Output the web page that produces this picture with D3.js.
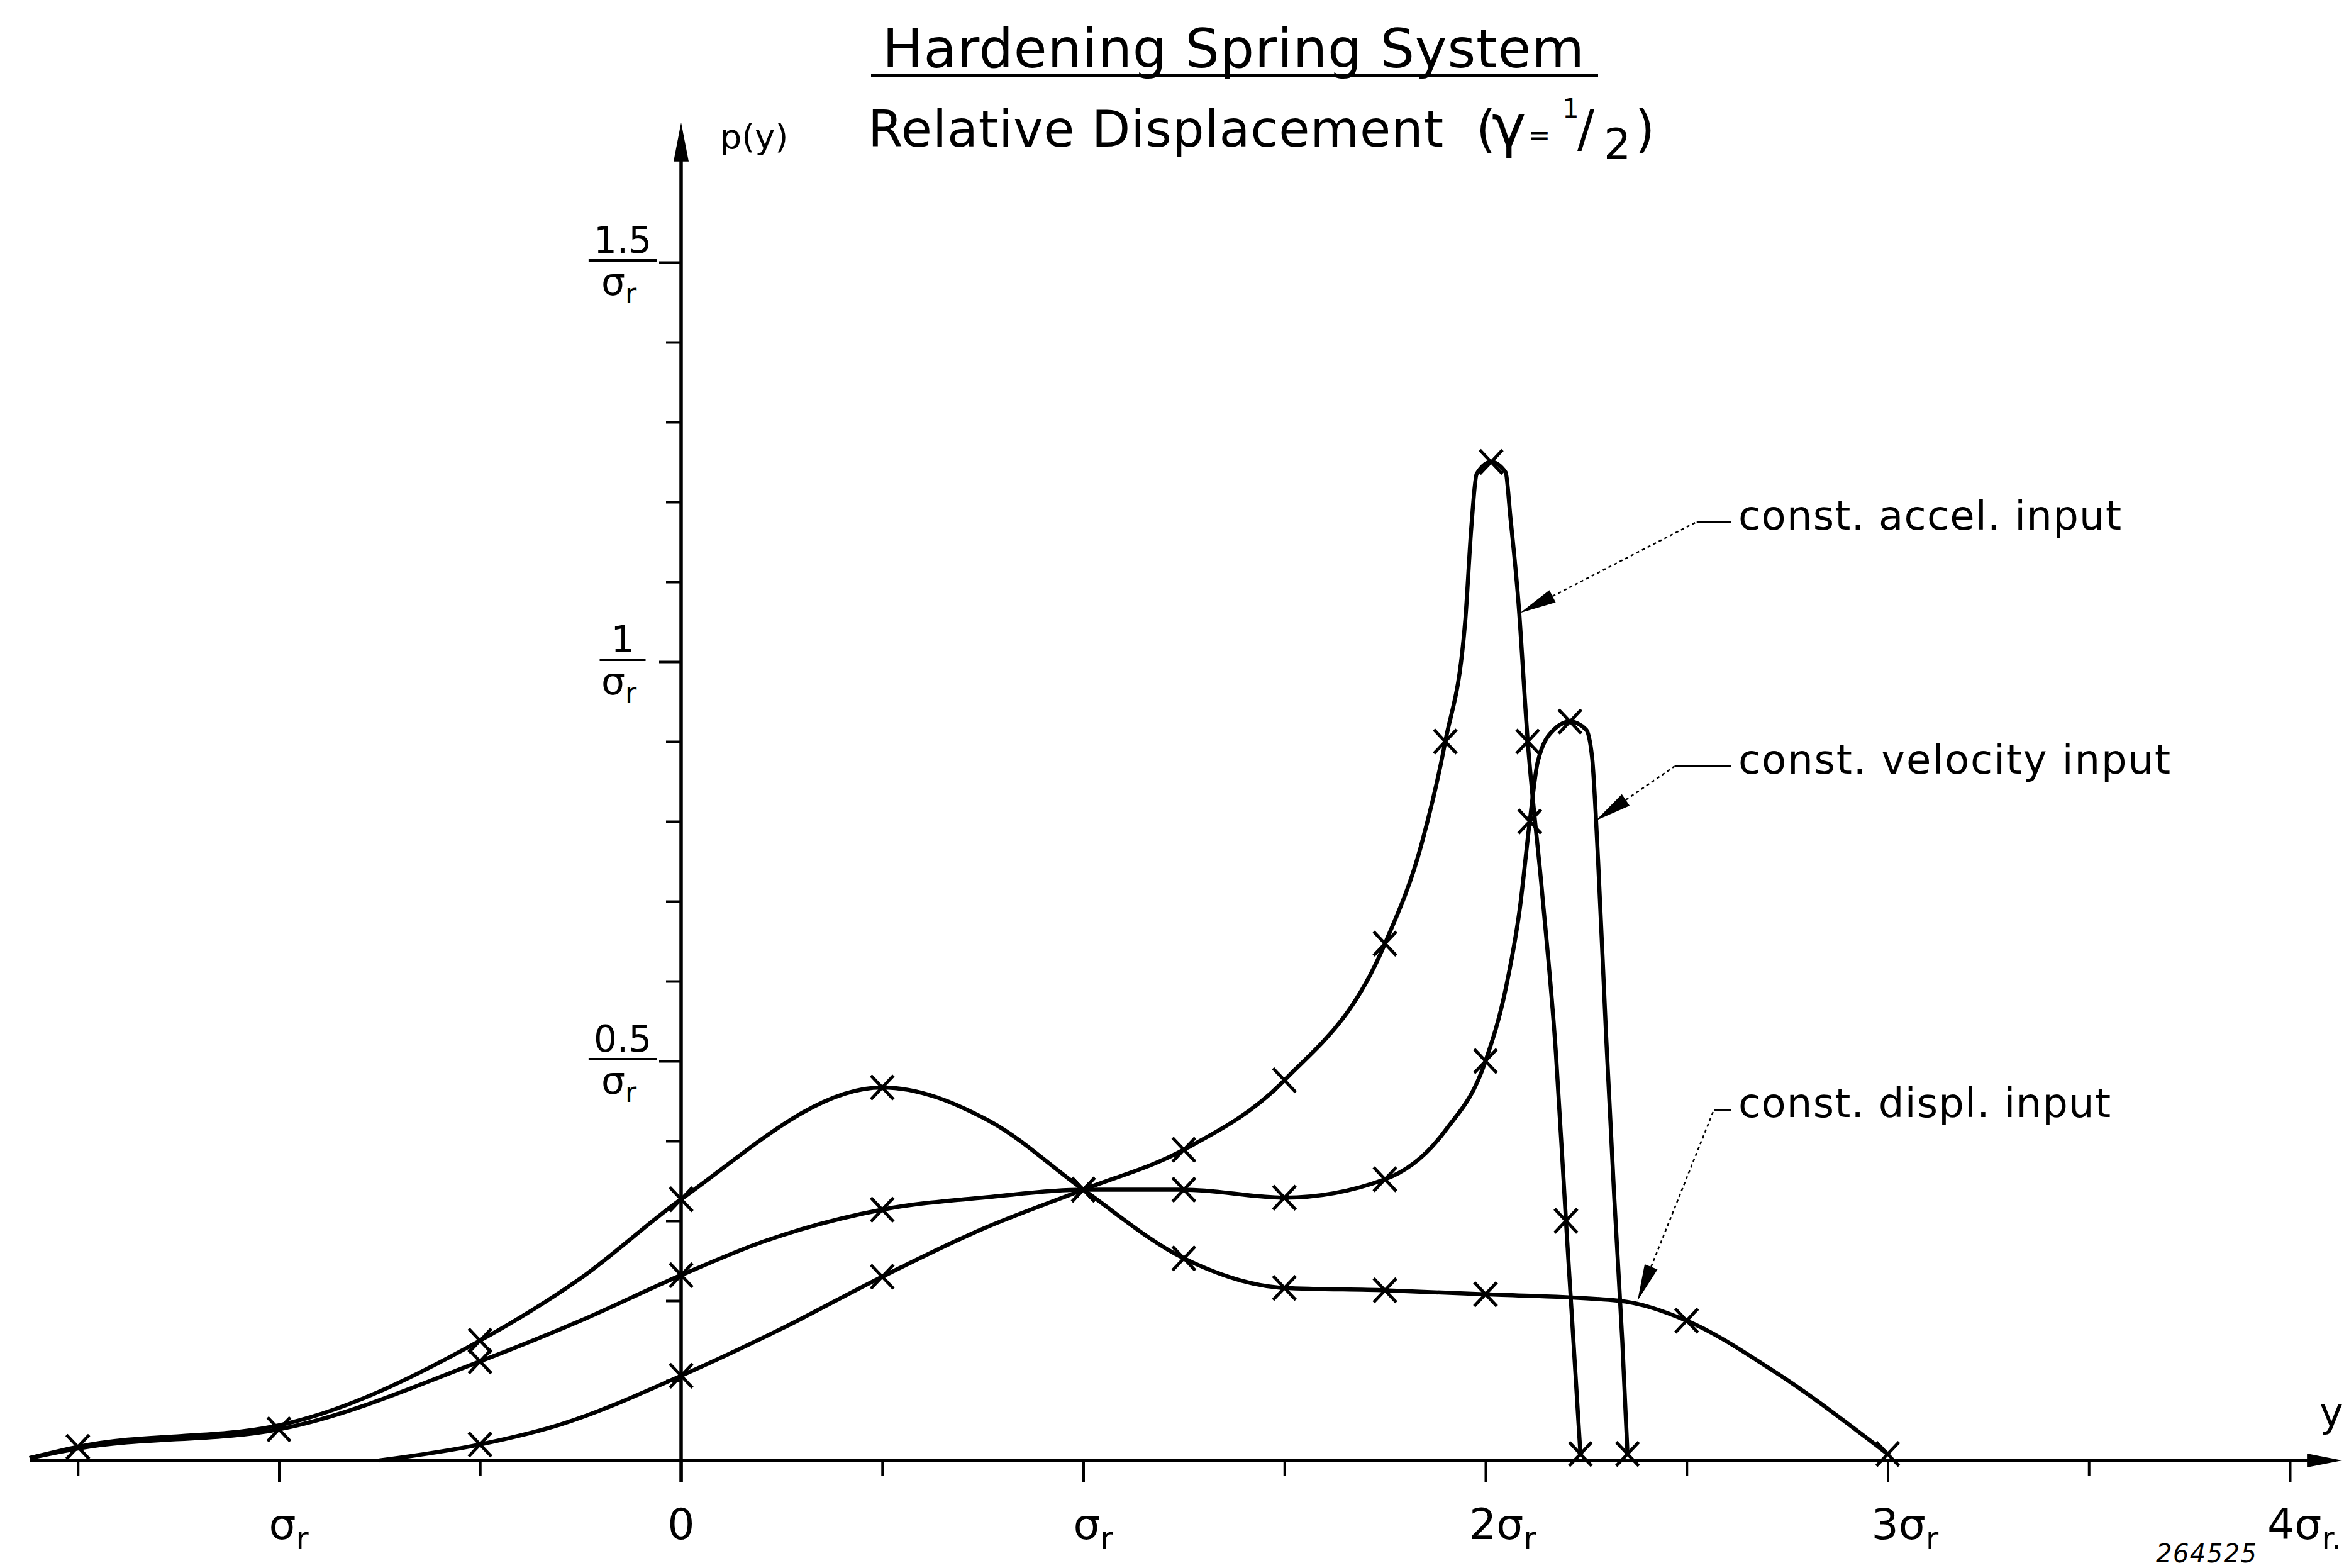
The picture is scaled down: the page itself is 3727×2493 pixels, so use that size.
<!DOCTYPE html>
<html>
<head>
<meta charset="utf-8">
<script src="https://cdn.jsdelivr.net/npm/d3@7"></script>
<style>
html, body { margin: 0; padding: 0; background: #fff; }
svg { display: block; background: #fff; }
text { font-family: "DejaVu Sans", sans-serif; fill: #000; }
</style>
</head>
<body>
<svg id="chart" width="3727" height="2493"></svg>
<script>
// y in units of sigma_r, p(y) in units of 1/sigma_r
const accelX = [-0.75, -0.5, -0.3, 0, 0.25, 0.5, 0.75, 1.0, 1.25, 1.5, 1.75, 1.84, 1.9, 1.95, 1.965, 1.978, 2.014, 2.05, 2.062, 2.081, 2.105, 2.14, 2.175, 2.2, 2.236];
const accelP = [0.0, 0.02, 0.045, 0.106, 0.165, 0.23, 0.29, 0.339, 0.389, 0.476, 0.647, 0.77, 0.9, 1.054, 1.17, 1.235, 1.25, 1.237, 1.18, 1.08, 0.9, 0.715, 0.51, 0.3, 0.008];
const accelMark = [0, 1, 0, 1, 0, 1, 0, 1, 1, 1, 1, 0, 1, 0, 0, 0, 1, 0, 0, 0, 1, 0, 0, 1, 1];

const veloX = [-1.62, -1.5, -1.0, -0.5, -0.25, 0, 0.21, 0.5, 0.77, 1.0, 1.25, 1.5, 1.75, 1.9, 2.0, 2.05, 2.085, 2.11, 2.13, 2.17, 2.21, 2.25, 2.265, 2.28, 2.3, 2.32, 2.34, 2.353];
const veloP = [0.003, 0.015, 0.039, 0.124, 0.175, 0.232, 0.275, 0.314, 0.33, 0.339, 0.339, 0.329, 0.352, 0.413, 0.5, 0.59, 0.69, 0.8, 0.875, 0.915, 0.925, 0.915, 0.88, 0.75, 0.53, 0.33, 0.15, 0.008];
const veloMark = [0, 0, 1, 1, 0, 1, 0, 1, 0, 1, 1, 1, 1, 0, 1, 0, 0, 1, 0, 0, 1, 0, 0, 0, 0, 0, 0, 1];

const displX = [-1.62, -1.5, -1.0, -0.5, -0.25, 0, 0.5, 0.77, 1.0, 1.25, 1.5, 1.75, 2.0, 2.33, 2.5, 2.71, 3.0];
const displP = [0.003, 0.017, 0.044, 0.15, 0.228, 0.327, 0.467, 0.424, 0.339, 0.253, 0.216, 0.213, 0.208, 0.2, 0.175, 0.114, 0.008];
const displMark = [0, 1, 0, 1, 0, 1, 1, 0, 1, 1, 1, 1, 1, 0, 1, 0, 1];

// axis ticks and labels
const xTickVals = [-1.5, -1, -0.5, 0, 0.5, 1, 1.5, 2, 2.5, 3, 3.5, 4];
const xLabelVals = [-1, 0, 1, 2, 3, 4];
const xLabels = ["σr", "0", "σr", "2σr", "3σr", "4σr."];
const yTickVals = [0.1, 0.2, 0.3, 0.4, 0.5, 0.6, 0.7, 0.8, 0.9, 1.0, 1.1, 1.2, 1.3, 1.4, 1.5];
const yLabelVals = [0.5, 1, 1.5];
const yLabelNums = ["0.5", "1", "1.5"];

// curve annotations: arrow tip on the curve and elbow of the leader
const labelText = ["const. accel. input", "const. velocity input", "const. displ. input"];
const labelTipX = [2.086, 2.274, 2.378];
const labelTipP = [1.061, 0.801, 0.2];
const labelElbowX = [2.525, 2.47, 2.568];
const labelElbowP = [1.175, 0.869, 0.439];

const svg = d3.select("#chart");
const x = d3.scaleLinear().domain([0, 4]).range([1083, 3641]);
const y = d3.scaleLinear().domain([0, 1.5]).range([2322, 417]);

function arrowHead(tx, ty, fx, fy, len, half) {
  const a = Math.atan2(ty - fy, tx - fx);
  const bx = tx - len * Math.cos(a), by = ty - len * Math.sin(a);
  const nx = -Math.sin(a) * half, ny = Math.cos(a) * half;
  return [[tx, ty], [bx + nx, by + ny], [bx - nx, by - ny]];
}

// x axis
const gx = svg.append("g")
  .attr("transform", `translate(0,${y(0)})`)
  .call(d3.axisBottom(x).tickValues(xTickVals).tickSize(24).tickFormat(""));
gx.select(".domain").remove();
gx.selectAll(".tick line")
  .attr("y2", d => (d % 1 === 0 ? 35 : 24))
  .attr("stroke", "#000")
  .attr("stroke-width", 4);

svg.append("line")
  .attr("x1", x(-1.62)).attr("x2", x(4.05))
  .attr("y1", y(0)).attr("y2", y(0))
  .attr("stroke", "#000").attr("stroke-width", 5);
svg.append("polygon")
  .attr("points", arrowHead(x(4.13), y(0), x(3.9), y(0), 56, 11).join(" "))
  .attr("fill", "#000");

// y axis
const gy = svg.append("g")
  .attr("transform", `translate(${x(0)},0)`)
  .call(d3.axisLeft(y).tickValues(yTickVals).tickSize(24).tickFormat(""));
gy.select(".domain").remove();
gy.selectAll(".tick line")
  .attr("x2", d => (Math.abs(d * 2 - Math.round(d * 2)) < 1e-6 ? -35 : -24))
  .attr("stroke", "#000")
  .attr("stroke-width", 4);

const yTip = y(1.675);
svg.append("line")
  .attr("x1", x(0)).attr("x2", x(0))
  .attr("y1", y(0) + 35).attr("y2", yTip + 55)
  .attr("stroke", "#000").attr("stroke-width", 5.5);
svg.append("polygon")
  .attr("points", arrowHead(x(0), yTip, x(0), y(1.4), 62, 12).join(" "))
  .attr("fill", "#000");

// x tick labels: sigma with subscript r
function sigmaLabel(str, px, py, size) {
  const t = svg.append("text").attr("x", px).attr("y", py).attr("font-size", size);
  const i = str.indexOf("σ");
  if (i < 0) {
    t.attr("text-anchor", "middle").text(str);
    return t;
  }
  t.append("tspan").text(str.slice(0, i + 1));
  t.append("tspan").attr("font-size", size * 0.72).attr("dy", size * 0.24).text(str.slice(i + 1));
  return t;
}

xLabelVals.forEach((v, i) => {
  const s = xLabels[i];
  let off = s === "0" ? 0 : (s.indexOf("σ") === 0 ? -16 : -26);
  if (v === 4) off = -36;
  sigmaLabel(s, x(v) + off, 2447, 68);
});

// y tick labels as fractions over sigma_r
yLabelVals.forEach((v, i) => {
  const cx = 990, ty = y(v);
  const num = svg.append("text")
    .attr("x", cx).attr("y", ty - 15)
    .attr("text-anchor", "middle")
    .attr("font-size", 58)
    .text(yLabelNums[i]);
  const den = svg.append("text")
    .attr("x", cx - 6).attr("y", ty + 52)
    .attr("text-anchor", "middle")
    .attr("font-size", 60);
  den.append("tspan").text("σ");
  den.append("tspan").attr("font-size", 44).attr("dy", 13).text("r");
  const w = Math.max(num.node().getBBox().width, den.node().getBBox().width) + 16;
  svg.append("line")
    .attr("x1", cx - w / 2).attr("x2", cx + w / 2)
    .attr("y1", ty - 3).attr("y2", ty - 3)
    .attr("stroke", "#000").attr("stroke-width", 4);
});

// axis names
svg.append("text").attr("x", 1145).attr("y", 236).attr("font-size", 54).text("p(y)");
svg.append("text").attr("x", 3688).attr("y", 2268).attr("font-size", 64).text("y");

// curves
const line = d3.line()
  .x(d => x(d[0]))
  .y(d => y(d[1]))
  .curve(d3.curveMonotoneX);

const series = [
  { xs: accelX, ps: accelP, ms: accelMark },
  { xs: veloX, ps: veloP, ms: veloMark },
  { xs: displX, ps: displP, ms: displMark }
];

series.forEach(s => {
  const pts = s.xs.map((v, i) => [v, s.ps[i], s.ms[i]]);
  svg.append("path")
    .datum(pts)
    .attr("d", line)
    .attr("fill", "none")
    .attr("stroke", "#000")
    .attr("stroke-width", 6.5)
    .attr("stroke-linejoin", "round");
  svg.selectAll(null)
    .data(pts.filter(p => p[2] === 1))
    .join("path")
    .attr("transform", p => `translate(${x(p[0])},${y(p[1])})`)
    .attr("d", "M-18,-19L18,19M-18,19L18,-19")
    .attr("stroke", "#000")
    .attr("stroke-width", 5)
    .attr("fill", "none");
});

// annotations with leaders
labelText.forEach((txt, i) => {
  const tx = x(labelTipX[i]), ty = y(labelTipP[i]);
  const ex = x(labelElbowX[i]), ey = y(labelElbowP[i]);
  const head = arrowHead(tx, ty, ex, ey, 58, 11);
  const bx = (head[1][0] + head[2][0]) / 2, by = (head[1][1] + head[2][1]) / 2;
  svg.append("line")
    .attr("x1", bx).attr("y1", by).attr("x2", ex).attr("y2", ey)
    .attr("stroke", "#000").attr("stroke-width", 2.5)
    .attr("stroke-dasharray", "5,5");
  svg.append("polygon").attr("points", head.join(" ")).attr("fill", "#000");
  svg.append("line")
    .attr("x1", ex).attr("y1", ey).attr("x2", 2752).attr("y2", ey)
    .attr("stroke", "#000").attr("stroke-width", 3);
  const w = [609, 687, 592][i];
  svg.append("text")
    .attr("x", 2764).attr("y", ey + 12)
    .attr("font-size", 64)
    .attr("textLength", w).attr("lengthAdjust", "spacing")
    .text(txt);
});

// titles
svg.append("text")
  .attr("x", 1403).attr("y", 107)
  .attr("font-size", 86)
  .attr("textLength", 1116).attr("lengthAdjust", "spacing")
  .text("Hardening Spring System");
svg.append("line")
  .attr("x1", 1385).attr("x2", 2541).attr("y1", 120).attr("y2", 120)
  .attr("stroke", "#000").attr("stroke-width", 5);

svg.append("text")
  .attr("x", 1380).attr("y", 233)
  .attr("font-size", 80)
  .attr("textLength", 915).attr("lengthAdjust", "spacing")
  .text("Relative  Displacement");
const gam = svg.append("text").attr("y", 233).attr("font-size", 80);
gam.append("tspan").attr("x", 2347).text("(");
gam.append("tspan").attr("x", 2372).attr("font-size", 92).text("γ");
gam.append("tspan").attr("x", 2430).attr("font-size", 42).attr("dy", -4).text("=");
gam.append("tspan").attr("x", 2484).attr("font-size", 42).attr("dy", -42).text("1");
gam.append("tspan").attr("x", 2508).attr("dy", 46).text("/");
gam.append("tspan").attr("x", 2550).attr("font-size", 68).attr("dy", 20).text("2");
gam.append("tspan").attr("x", 2600).attr("dy", -20).text(")");

// drawing number
svg.append("text")
  .attr("x", 3428).attr("y", 2484)
  .attr("font-size", 40)
  .attr("font-style", "italic")
  .attr("textLength", 160).attr("lengthAdjust", "spacing")
  .text("264525");
</script>
</body>
</html>
